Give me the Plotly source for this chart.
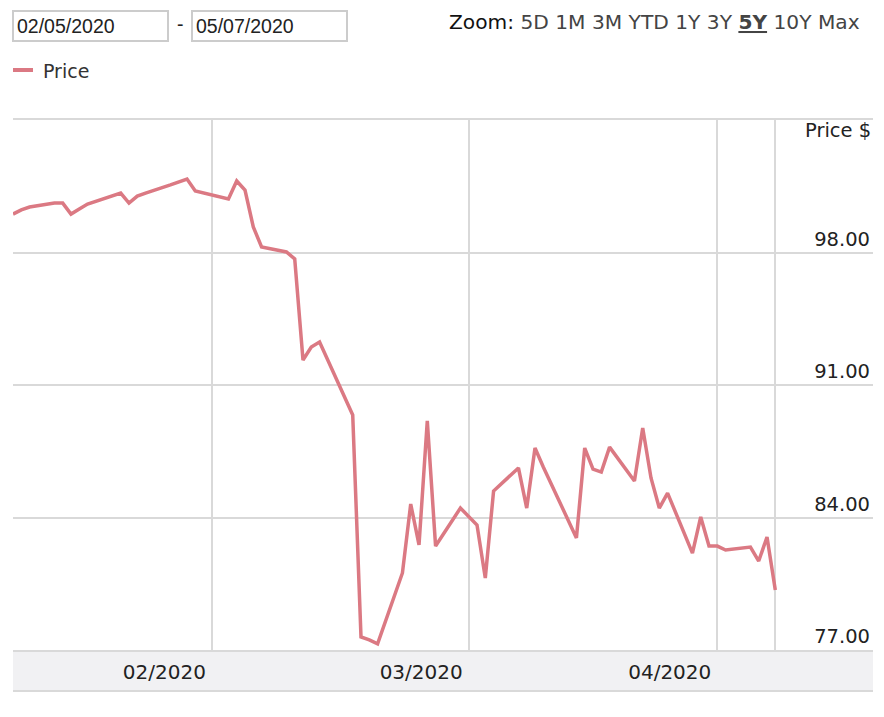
"""
Price chart with range inputs and zoom selector header
"""
import plotly.graph_objects as go

dates = [
    '2020-02-05', '2020-02-06', '2020-02-07', '2020-02-10', '2020-02-11',
    '2020-02-12', '2020-02-13', '2020-02-14', '2020-02-18', '2020-02-19',
    '2020-02-20', '2020-02-21', '2020-02-24', '2020-02-25', '2020-02-26',
    '2020-02-27', '2020-02-28', '2020-03-02', '2020-03-03', '2020-03-04',
    '2020-03-05', '2020-03-06', '2020-03-09', '2020-03-10', '2020-03-11',
    '2020-03-12', '2020-03-13', '2020-03-16', '2020-03-17', '2020-03-18',
    '2020-03-19', '2020-03-20', '2020-03-23', '2020-03-24', '2020-03-25',
    '2020-03-26', '2020-03-27', '2020-03-30', '2020-03-31', '2020-04-01',
    '2020-04-02', '2020-04-03', '2020-04-06', '2020-04-07', '2020-04-08',
    '2020-04-09', '2020-04-13', '2020-04-14', '2020-04-15', '2020-04-16',
    '2020-04-17', '2020-04-20', '2020-04-21', '2020-04-22', '2020-04-23',
    '2020-04-24', '2020-04-27', '2020-04-28', '2020-04-29', '2020-04-30',
    '2020-05-01', '2020-05-04', '2020-05-05', '2020-05-06', '2020-05-07',
]
prices = [
    100.03, 100.25, 100.40, 100.61, 100.61,
    100.03, 100.30, 100.56, 101.14, 100.61,
    100.98, 101.14, 101.57, 101.72, 101.88,
    101.25, 101.14, 100.83, 101.78, 101.30,
    99.35, 98.29, 98.03, 97.66, 92.32,
    93.01, 93.27, 90.31, 89.42, 77.69,
    77.53, 77.32, 81.07, 84.71, 82.55,
    89.10, 82.49, 84.50, 84.08, 83.60,
    80.80, 85.40, 86.62, 84.50, 87.67,
    86.67, 82.92, 87.67, 86.56, 86.40,
    87.72, 85.93, 88.73, 86.09, 84.50,
    85.29, 82.12, 84.03, 82.49, 82.49,
    82.28, 82.44, 81.70, 82.97, 80.17,
]

month_ticks = ['2020-02-29', '2020-03-31', '2020-04-30', '2020-05-07']
month_labels = ['02/2020', '03/2020', '04/2020', '']
price_ticks = [77, 84, 91, 98]
price_labels = ['77.00', '84.00', '91.00', '98.00']
zoom_options = ['5D', '1M', '3M', 'YTD', '1Y', '3Y', '5Y', '10Y', 'Max']
selected_zoom = '5Y'
start_text = '02/05/2020'
end_text = '05/07/2020'

LINE = 'rgb(219, 121, 131)'
GRID = '#d9d9d9'
W, H = 884, 717
L, R, T, B = 13, 11, 120, 67
PW, PH = W - L - R, H - T - B


def px(x):
    return (x - L) / PW


def py(y):
    return (H - B - y) / PH


fig = go.Figure()
fig.add_trace(go.Scatter(
    x=dates, y=prices, mode='lines', name='Price',
    line=dict(color=LINE, width=3.5), showlegend=False,
))

zoom_html = '<span style="color:#111">Zoom:</span> ' + ' '.join(
    '<b><u>%s</u></b>' % z if z == selected_zoom else z for z in zoom_options
)

shapes = [
    # x axis band
    dict(type='rect', xref='paper', yref='paper', x0=0, x1=1,
         y0=py(691), y1=0, fillcolor='#f1f1f3', line=dict(width=0), layer='below'),
    dict(type='line', xref='paper', yref='paper', x0=0, x1=1,
         y0=py(691), y1=py(691), line=dict(color=GRID, width=2)),
    # date input boxes
    dict(type='rect', xref='paper', yref='paper', x0=px(13), x1=px(168),
         y0=py(41), y1=py(11), line=dict(color='#cccccc', width=2)),
    dict(type='rect', xref='paper', yref='paper', x0=px(192), x1=px(347),
         y0=py(41), y1=py(11), line=dict(color='#cccccc', width=2)),
    # legend sample
    dict(type='line', xref='paper', yref='paper', x0=px(13), x1=px(33),
         y0=py(70), y1=py(70), line=dict(color=LINE, width=4)),
]

annotations = [
    dict(text=start_text, x=px(15), y=py(26), xanchor='left', yanchor='middle',
         font=dict(family='Liberation Sans, Arial', size=19.5, color='#222')),
    dict(text='-', x=px(180), y=py(24), xanchor='center', yanchor='middle',
         font=dict(family='Liberation Sans, Arial', size=19.5, color='#222')),
    dict(text=end_text, x=px(194), y=py(26), xanchor='left', yanchor='middle',
         font=dict(family='Liberation Sans, Arial', size=19.5, color='#222')),
    dict(text=zoom_html, x=px(447), y=py(22), xanchor='left', yanchor='middle',
         font=dict(family='DejaVu Sans', size=20.2, color='#444')),
    dict(text='Price', x=px(41), y=py(71), xanchor='left', yanchor='middle',
         font=dict(family='DejaVu Sans', size=19, color='#333')),
    dict(text='Price $', x=1, y=1, xanchor='right', yanchor='top', yshift=3,
         font=dict(family='DejaVu Sans', size=19.5, color='#222')),
]
for a in annotations:
    a.update(xref='paper', yref='paper', showarrow=False)

fig.update_layout(
    width=W, height=H,
    margin=dict(l=L, r=R, t=T, b=B),
    paper_bgcolor='white', plot_bgcolor='white',
    shapes=shapes, annotations=annotations,
    showlegend=False,
    xaxis=dict(
        type='date',
        range=['2020-02-05', '2020-05-18 19:00'],
        tickvals=month_ticks, ticktext=month_labels,
        ticklabelposition='outside left',
        ticklabelshift=-5, ticklabelstandoff=3,
        showgrid=True, gridcolor=GRID, gridwidth=2,
        showline=True, mirror=True, linecolor=GRID, linewidth=2,
        ticks='', zeroline=False,
        tickfont=dict(family='DejaVu Sans', size=20, color='#222'),
    ),
    yaxis=dict(
        side='right', range=[77, 105],
        tickvals=price_ticks, ticktext=price_labels,
        ticklabelposition='inside top',
        showgrid=True, gridcolor=GRID, gridwidth=2,
        ticks='', zeroline=False, showline=False,
        tickfont=dict(family='DejaVu Sans', size=19.5, color='#222'),
    ),
)

fig.write_html('out.html', config={'displayModeBar': False},
               post_script="document.body.style.margin = '0';")
